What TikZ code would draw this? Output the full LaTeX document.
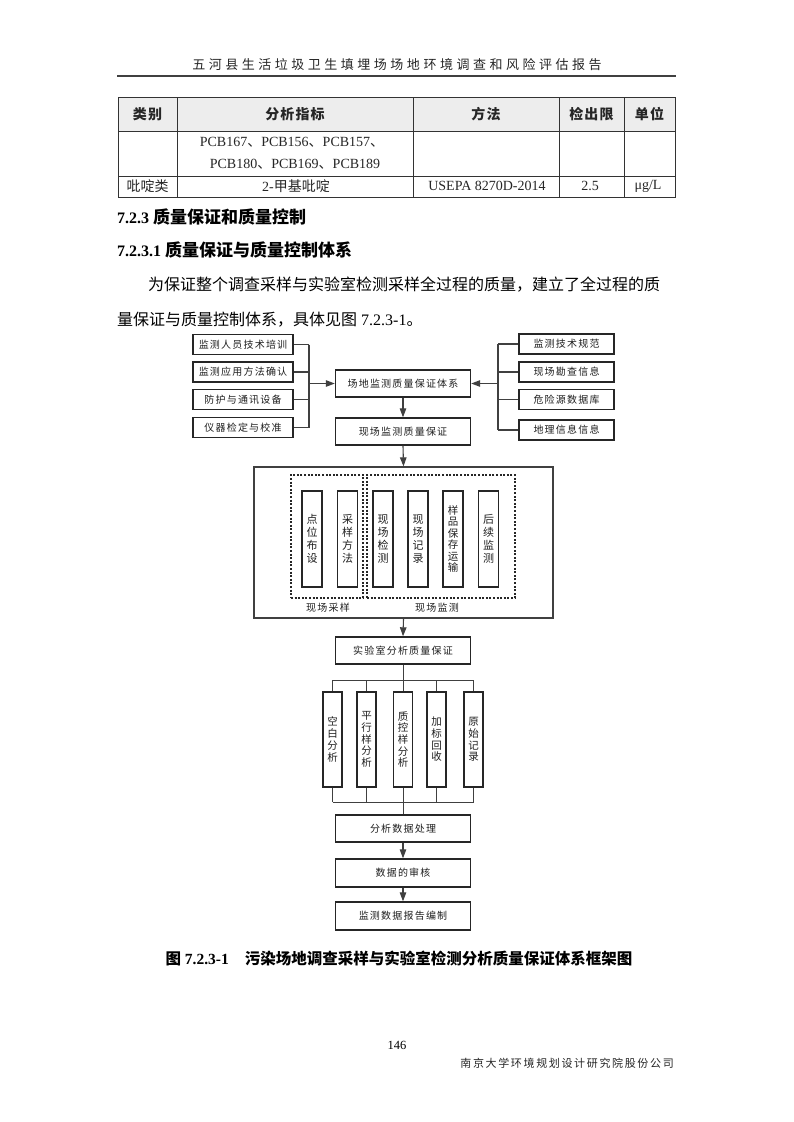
\documentclass[tikz,border=0pt]{standalone}
\usepackage{fontspec}
\setmainfont{Liberation Serif}
\newfontfamily\cjk{Noto Sans CJK SC}
\newfontfamily\cjkhead[LetterSpace=27]{Noto Sans CJK SC}
\newfontfamily\cjkfoot[LetterSpace=15]{Noto Sans CJK SC}
\newfontfamily\cjkdia[LetterSpace=12]{Noto Sans CJK SC}
\newfontfamily\cjkhd[LetterSpace=8]{Noto Sans CJK SC}
\usetikzlibrary{arrows.meta}
\begin{document}
\begin{tikzpicture}[x=1pt,y=-1pt,
  tline/.style={draw=black!80, line width=0.8pt},
  sbox/.style={draw=black!85, line width=1.7pt, fill=white, minimum width=100pt, minimum height=20pt, inner sep=0pt, font=\fontsize{10}{10}\cjkdia, text=black!88},
  rbox/.style={sbox, minimum width=95pt},
  mbox/.style={draw=black!85, line width=1.4pt, fill=white, minimum width=135pt, minimum height=27pt, inner sep=0pt, font=\fontsize{10}{10}\cjkdia, text=black!88},
  tallA/.style={draw=black!85, line width=1.6pt, fill=white, minimum width=20pt, minimum height=96pt, inner sep=0pt, align=center, font=\fontsize{11}{13}\cjk, text=black!88},
  tallB/.style={draw=black!85, line width=1.6pt, fill=white, minimum width=19pt, minimum height=95pt, inner sep=0pt, align=center, font=\fontsize{10.5}{11.7}\cjk, text=black!88},
  conn/.style={draw=black!75, line width=1.1pt},
  arr/.style={conn, -{Triangle[length=9pt,width=6.5pt]}},
  dbox/.style={draw=black!85, line width=1.6pt, dash pattern=on 2pt off 1.6pt},
  lbl/.style={font=\fontsize{10}{10}\cjkdia, text=black!88, inner sep=0pt}
]
\fill[white] (0,0) rectangle (793,1122);
\path[use as bounding box] (0,0) rectangle (793,1122);

% header
\node[font=\fontsize{13}{13}\cjkhead, text=black!85, inner sep=0pt] (hdr) at (397,65) {五河县生活垃圾卫生填埋场场地环境调查和风险评估报告};
\draw[line width=1.5pt, black!75] (117,76) -- (676,76);

% table
\fill[black!7] (118,97) rectangle (675,131);
\draw[tline] (118,97) rectangle (675,197);
\draw[tline] (118,131) -- (675,131);
\draw[tline] (118,176) -- (675,176);
\foreach \xx in {177,413,559,624} \draw[tline] (\xx,97) -- (\xx,197);
\begin{scope}[every node/.style={inner sep=0pt, text=black!85}]
\node[font=\fontsize{14}{14}\cjkhd\bfseries] (th1) at (147.5,114) {类别};
\node[font=\fontsize{14}{14}\cjkhd\bfseries] (th2) at (295,114) {分析指标};
\node[font=\fontsize{14}{14}\cjkhd\bfseries] (th3) at (486,114) {方法};
\node[font=\fontsize{14}{14}\cjkhd\bfseries] (th4) at (591.5,114) {检出限};
\node[font=\fontsize{14}{14}\cjkhd\bfseries] (th5) at (649.5,114) {单位};
\node[font=\fontsize{14}{14}\selectfont] (r1a) at (292,142) {PCB167{\cjk 、}PCB156{\cjk 、}PCB157{\cjk 、}};
\node[font=\fontsize{14}{14}\selectfont] (r1b) at (295,164) {PCB180{\cjk 、}PCB169{\cjk 、}PCB189};
\node[font=\fontsize{14}{14}\cjk] (r2a) at (147.5,186) {吡啶类};
\node[font=\fontsize{14}{14}\selectfont] (r2b) at (296,186) {2-{\cjk 甲基吡啶}};
\node[font=\fontsize{14}{14}\selectfont] (r2c) at (487,186) {USEPA 8270D-2014};
\node[font=\fontsize{14}{14}\selectfont] (r2d) at (590,186) {2.5};
\node[font=\fontsize{14}{14}\selectfont] (r2e) at (648,186) {μg/L};
\end{scope}

% headings and paragraph
\node[anchor=west, inner sep=0pt, font=\fontsize{16}{16}\selectfont\bfseries] (h1) at (117,217) {7.2.3 {\fontsize{17}{17}\cjk\bfseries 质量保证和质量控制}};
\node[anchor=west, inner sep=0pt, font=\fontsize{16}{16}\selectfont\bfseries] (h2) at (117,250) {7.2.3.1 {\fontsize{17}{17}\cjk\bfseries 质量保证与质量控制体系}};
\node[anchor=west, inner sep=0pt, font=\fontsize{16}{16}\cjk] (p1) at (148,285) {为保证整个调查采样与实验室检测采样全过程的质量，建立了全过程的质};
\node[anchor=west, inner sep=0pt, font=\fontsize{16}{16}\selectfont] (p2) at (117,320) {{\cjk 量保证与质量控制体系，具体见图}\ 7.2.3-1{\cjk 。}};

% ---------- diagram ----------
\node[sbox] (L1) at (243,344.5) {监测人员技术培训};
\node[sbox] (L2) at (243,372) {监测应用方法确认};
\node[sbox] (L3) at (243,399.5) {防护与通讯设备};
\node[sbox] (L4) at (243,427.5) {仪器检定与校准};

\node[rbox] (R1) at (566.5,344) {监测技术规范};
\node[rbox] (R2) at (566.5,372) {现场勘查信息};
\node[rbox] (R3) at (566.5,399.5) {危险源数据库};
\node[rbox] (R4) at (566.5,430) {地理信息信息};

\node[mbox] (M1) at (403,383.5) {场地监测质量保证体系};
\node[mbox] (M2) at (403,431.5) {现场监测质量保证};

\coordinate (jl) at (309,383.5);
\coordinate (jr) at (498,383.5);
\foreach \n in {L1,L2,L3,L4} \draw[conn] (\n.east) -- (\n.east -| jl);
\draw[conn] (L1.east -| jl) -- (L4.east -| jl);
\draw[arr] (jl) -- (M1.west);
\foreach \n in {R1,R2,R3,R4} \draw[conn] (\n.west) -- (\n.west -| jr);
\draw[conn] (R1.west -| jr) -- (R4.west -| jr);
\draw[arr] (jr) -- (M1.east);
\draw[arr] (M1.south) -- (M2.north);

% field box
\node[draw=black!75, line width=1.2pt, minimum width=299pt, minimum height=151pt, inner sep=0pt] (F) at (403.5,542.5) {};
\draw[arr] (M2.south) -- (F.north);
\node[dbox, minimum width=72pt, minimum height=123pt, inner sep=0pt] (D1) at (327,536.5) {};
\node[dbox, minimum width=148pt, minimum height=123pt, inner sep=0pt] (D2) at (441,536.5) {};
\node[tallA] (a1) at (312,539) {点\\位\\布\\设};
\node[tallA] (a2) at (347.5,539) {采\\样\\方\\法};
\node[tallA] (a3) at (383,539) {现\\场\\检\\测};
\node[tallA] (a4) at (418,539) {现\\场\\记\\录};
\node[tallA, font=\fontsize{10.5}{11.5}\cjk] (a5) at (453,539) {样\\品\\保\\存\\运\\输};
\node[tallA] (a6) at (488.5,539) {后\\续\\监\\测};
\node[lbl] (lab1) at (328,608) {现场采样};
\node[lbl] (lab2) at (437,608) {现场监测};

% lab
\node[mbox] (LB) at (403,650.5) {实验室分析质量保证};
\draw[arr] (F.south) -- (LB.north);
\node[tallB] (b1) at (332.5,739.5) {空\\白\\分\\析};
\node[tallB] (b2) at (366.5,739.5) {平\\行\\样\\分\\析};
\node[tallB] (b3) at (403,739.5) {质\\控\\样\\分\\析};
\node[tallB] (b4) at (436.5,739.5) {加\\标\\回\\收};
\node[tallB] (b5) at (473.5,739.5) {原\\始\\记\\录};
\coordinate (bt) at (403,680);
\coordinate (bb) at (403,802);
\draw[conn, line width=0.9pt] (LB.south) -- (bt);
\draw[conn, line width=0.9pt] (b1.north |- bt) -- (b5.north |- bt);
\foreach \n in {b1,b2,b3,b4,b5} {
  \draw[conn, line width=0.9pt] (\n.north |- bt) -- (\n.north);
  \draw[conn, line width=0.9pt] (\n.south) -- (\n.south |- bb);
}
\draw[conn, line width=0.9pt] (b1.south |- bb) -- (b5.south |- bb);

\node[mbox] (E1) at (403,828.5) {分析数据处理};
\node[mbox, minimum height=28pt] (E2) at (403,873) {数据的审核};
\node[mbox, minimum height=28pt] (E3) at (403,916) {监测数据报告编制};
\draw[conn, line width=0.9pt] (bb) -- (E1.north);
\draw[arr] (E1.south) -- (E2.north);
\draw[arr] (E2.south) -- (E3.north);

% caption
\node[inner sep=0pt, font=\fontsize{15.5}{15.5}\selectfont\bfseries] (cap) at (399,958) {{\cjk\bfseries 图}\ 7.2.3-1\hspace{16pt}{\cjk\bfseries 污染场地调查采样与实验室检测分析质量保证体系框架图}};

% footer
\node[inner sep=0pt, font=\fontsize{12.5}{12.5}\selectfont] (pg) at (397,1045) {146};
\node[anchor=east, inner sep=0pt, font=\fontsize{11}{11}\cjkfoot, text=black!85] (ft) at (674,1063) {南京大学环境规划设计研究院股份公司};
\end{tikzpicture}
\end{document}
